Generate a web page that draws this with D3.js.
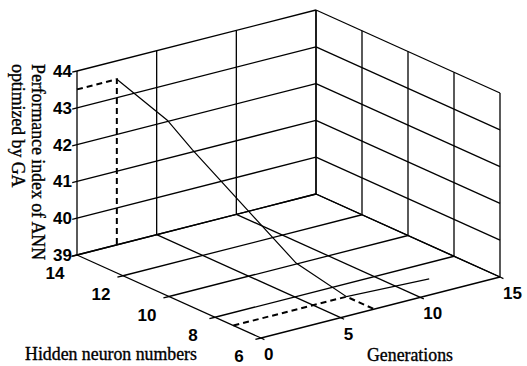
<!DOCTYPE html>
<html>
<head>
<meta charset="utf-8">
<script src="https://cdn.jsdelivr.net/npm/d3@7"></script>
<style>
  html, body { margin: 0; padding: 0; background: #fff; }
  svg { display: block; }
  .tick-label { font-family: 'Liberation Sans', Arial, sans-serif; font-weight: bold; font-size: 17px; fill: #000; }
  .axis-title { font-family: 'Liberation Serif', 'Times New Roman', serif; font-size: 17.8px; fill: #000; stroke: #000; stroke-width: 0.35px; }
</style>
</head>
<body>
<div id="chart"></div>
<script>
// axis ticks
const genTicks = [0, 5, 10, 15];
const hiddenTicks = [6, 8, 10, 12, 14];
const perfTicks = [39, 40, 41, 42, 43, 44];

// GA run: generation, hidden neurons, performance index
const curveGen = [2.5, 3.5, 4.0, 6.1, 7.1, 12];
const curveHidden = [14, 12.5, 11.75, 8.7, 7.2, 7.0];
const curvePerf = [43.5, 42.7, 42.05, 39.6, 39, 39];

// points marked with dashed guide lines [gen, hidden, perf]
const peakPoint = [2.5, 14, 43.5];
const bestPoint = [7.1, 7.2, 39];

const width = 527, height = 366;

// projected box geometry
const origin = [77, 255];     // gen 0, hidden 14, perf 39
const genVec = [239, -61];
const hidVec = [184, 83];
const perfLen = 184;

const gS = d3.scaleLinear().domain(d3.extent(genTicks)).range([0, 1]);
const hS = d3.scaleLinear().domain([d3.max(hiddenTicks), d3.min(hiddenTicks)]).range([0, 1]);
const pS = d3.scaleLinear().domain(d3.extent(perfTicks)).range([0, perfLen]);

const g0 = gS.domain()[0], g1 = gS.domain()[1];
const h0 = hS.domain()[0], h1 = hS.domain()[1];
const p0 = pS.domain()[0], p1 = pS.domain()[1];

function proj(g, h, p) {
  const a = gS(g), b = hS(h);
  return [origin[0] + a * genVec[0] + b * hidVec[0],
          origin[1] + a * genVec[1] + b * hidVec[1] - pS(p)];
}

const svg = d3.select('#chart').append('svg')
  .attr('width', width)
  .attr('height', height);

const line = d3.line().x(d => d[0]).y(d => d[1]);

// grid on back walls and floor
const grid = [];
perfTicks.forEach(p => {
  grid.push([[g0, h0, p], [g1, h0, p]]);
  grid.push([[g1, h0, p], [g1, h1, p]]);
});
genTicks.forEach(g => {
  grid.push([[g, h0, p0], [g, h0, p1]]);
  grid.push([[g, h0, p0], [g, h1, p0]]);
});
hiddenTicks.forEach(h => {
  grid.push([[g1, h, p0], [g1, h, p1]]);
  grid.push([[g0, h, p0], [g1, h, p0]]);
});

// tick marks
perfTicks.forEach(p => grid.push([[g0, h0, p], [g0 - 0.3, h0, p]]));
hiddenTicks.forEach(h => grid.push([[g0, h, p0], [g0 - 0.35, h, p0]]));
genTicks.forEach(g => grid.push([[g, h1, p0], [g, h1 - 0.15, p0]]));

svg.append('g').selectAll('path')
  .data(grid)
  .enter()
  .append('path')
  .attr('d', d => line(d.map(q => proj(q[0], q[1], q[2]))))
  .attr('fill', 'none')
  .attr('stroke', '#000')
  .attr('stroke-width', 1.3);

// dashed guide lines
const guides = [
  [[g0, peakPoint[1], peakPoint[2]], peakPoint, [peakPoint[0], peakPoint[1], p0]],
  [[g0, bestPoint[1], p0], bestPoint, [bestPoint[0], h1, p0]]
];
svg.append('g').selectAll('path')
  .data(guides)
  .enter()
  .append('path')
  .attr('d', d => line(d.map(q => proj(q[0], q[1], q[2]))))
  .attr('fill', 'none')
  .attr('stroke', '#000')
  .attr('stroke-width', 2)
  .attr('stroke-dasharray', '6,4');

// data curve
const curve = curveGen.map((g, i) => proj(g, curveHidden[i], curvePerf[i]));
svg.append('path')
  .attr('d', line(curve))
  .attr('fill', 'none')
  .attr('stroke', '#000')
  .attr('stroke-width', 1.2);

// tick labels
svg.append('g').selectAll('text')
  .data(perfTicks)
  .enter()
  .append('text')
  .attr('class', 'tick-label')
  .attr('text-anchor', 'end')
  .attr('x', d => proj(g0, h0, d)[0] - 5)
  .attr('y', d => proj(g0, h0, d)[1] + 6)
  .text(d => d);

svg.append('g').selectAll('text')
  .data(hiddenTicks)
  .enter()
  .append('text')
  .attr('class', 'tick-label')
  .attr('text-anchor', 'middle')
  .attr('x', d => proj(g0, d, p0)[0] - 22)
  .attr('y', d => proj(g0, d, p0)[1] + 24)
  .text(d => d);

svg.append('g').selectAll('text')
  .data(genTicks)
  .enter()
  .append('text')
  .attr('class', 'tick-label')
  .attr('text-anchor', 'start')
  .attr('x', d => proj(d, h1, p0)[0] + 3)
  .attr('y', d => proj(d, h1, p0)[1] + 22)
  .text(d => d);

// axis titles
svg.append('text')
  .attr('class', 'axis-title')
  .attr('text-anchor', 'middle')
  .attr('x', 111)
  .attr('y', 360)
  .text('Hidden neuron numbers');

svg.append('text')
  .attr('class', 'axis-title')
  .attr('text-anchor', 'middle')
  .attr('x', 410)
  .attr('y', 361)
  .text('Generations');

svg.append('text')
  .attr('class', 'axis-title')
  .attr('transform', 'translate(32,64) rotate(90)')
  .text('Performance index of ANN');

svg.append('text')
  .attr('class', 'axis-title')
  .attr('transform', 'translate(12,64) rotate(90)')
  .text('optimized by GA');
</script>
</body>
</html>
